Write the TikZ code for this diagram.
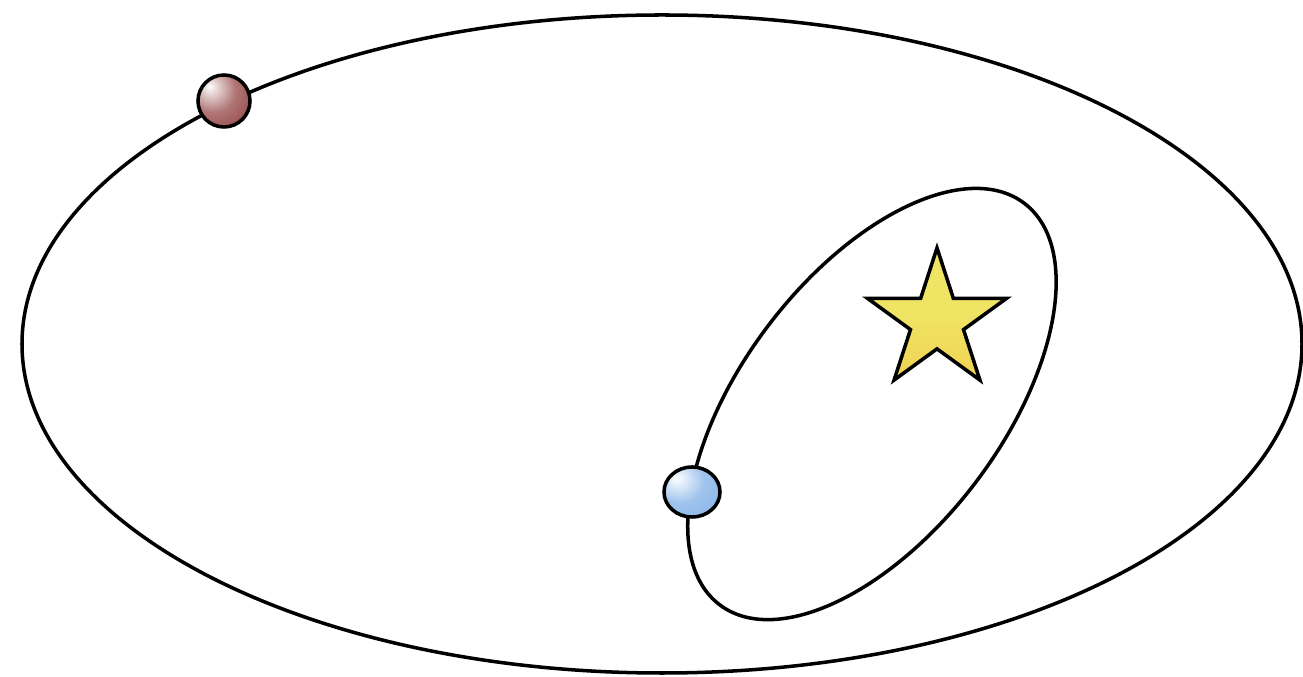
\documentclass[tikz,border=0pt]{standalone}
\usetikzlibrary{shapes.geometric}

\definecolor{marsred}{RGB}{150,72,72}
\definecolor{earthblue}{RGB}{135,180,232}
\definecolor{sunyellow}{RGB}{240,228,100}
\definecolor{sunorange}{RGB}{238,178,55}

\pgfdeclareradialshading{brownball}{\pgfqpoint{-14bp}{14bp}}{color(0bp)=(white); color(4bp)=(white!85!marsred); color(22bp)=(marsred!75!white); color(42bp)=(marsred); color(65bp)=(marsred!70!black); color(100bp)=(marsred!70!black)}
\pgfdeclareradialshading{blueball}{\pgfqpoint{-14bp}{14bp}}{color(0bp)=(white); color(4bp)=(white!85!earthblue); color(22bp)=(earthblue!80!white); color(45bp)=(earthblue); color(70bp)=(earthblue!85!black); color(100bp)=(earthblue!85!black)}
\pgfdeclarehorizontalshading{sunglow}{100bp}{color(0bp)=(sunorange); color(30bp)=(sunyellow!70!sunorange); color(50bp)=(sunyellow); color(100bp)=(sunyellow)}

\tikzset{
  orbit/.style={draw, line width=1pt},
  planet/.style={draw, line width=1pt, inner sep=0pt},
  sun/.style={star, star points=5, star point ratio=2.62, draw, line width=1pt,
    minimum size=1.46cm, inner sep=0pt, shading=sunglow, shading angle=90}
}

\begin{document}
\begin{tikzpicture}[x=0.01cm, y=0.01cm]

  \useasboundingbox (0,-677) rectangle (1303,0);

  % Bahnen
  \coordinate (outercenter) at (662,-344);
  \coordinate (innercenter) at (872,-404);
  \draw[orbit] (outercenter) ellipse [x radius=640, y radius=329];
  \draw[orbit, rotate around={52.8:(innercenter)}]
    (innercenter) ellipse [x radius=252, y radius=130];

  % Stern
  \node[sun] (sun) at (937,-321) {};

  % Planeten
  \node[planet, circle, minimum size=0.52cm, shading=brownball] (outerplanet) at (224,-101) {};
  \node[planet, ellipse, minimum width=0.56cm, minimum height=0.50cm, shading=blueball] (innerplanet) at (692,-492) {};

\end{tikzpicture}
\end{document}
